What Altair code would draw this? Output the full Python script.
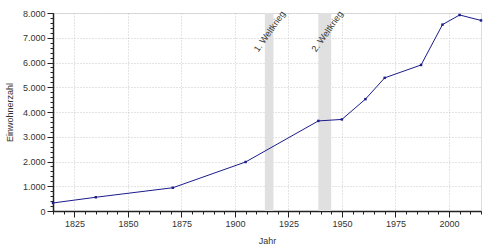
import altair as alt
import pandas as pd

years = [1815, 1835, 1871, 1905, 1939, 1950, 1961, 1970, 1987, 1997, 2005, 2015]
population = [325, 555, 940, 1980, 3640, 3700, 4520, 5380, 5900, 7530, 7920, 7700]

war_start = [1914, 1939]
war_end = [1918, 1945]
war_label = ["1. Weltkrieg", "2. Weltkrieg"]

major_x = [1825, 1850, 1875, 1900, 1925, 1950, 1975, 2000]
minor_x = list(range(1815, 2016, 5))
major_y = [0, 1000, 2000, 3000, 4000, 5000, 6000, 7000, 8000]
minor_y = list(range(0, 8001, 200))

df = pd.DataFrame({"Jahr": years, "Einwohner": population})
wars = pd.DataFrame({"start": war_start, "end": war_end, "label": war_label})

FONT = "Liberation Sans"
xscale = alt.Scale(domain=[1815, 2015], nice=False, zero=False)
yscale = alt.Scale(domain=[0, 8000], nice=False)

bands = alt.Chart(wars).mark_rect(color="#e0e0e0").encode(
    x=alt.X("start:Q", scale=xscale, axis=None),
    x2="end:Q",
)

minor = alt.Chart(df).mark_point(opacity=0).encode(
    x=alt.X("Jahr:Q", scale=xscale,
            axis=alt.Axis(values=minor_x, labels=False, grid=False, domain=False,
                          tickSize=3, tickColor="#222", title=None, orient="bottom")),
    y=alt.Y("Einwohner:Q", scale=yscale,
            axis=alt.Axis(values=minor_y, labels=False, grid=False, domain=False,
                          tickSize=3, tickColor="#222", title=None, orient="left")),
)

line = alt.Chart(df).mark_line(
    color="#1c1c8c", strokeWidth=1,
    point=alt.OverlayMarkDef(color="#1c1c8c", size=6, filled=True, shape="square"),
).encode(
    x=alt.X("Jahr:Q", scale=xscale,
            axis=alt.Axis(values=major_x, format="d", title="Jahr", tickSize=6,
                          tickColor="#222", domainColor="#222", domainWidth=1.5,
                          grid=True, gridColor="#c8c8c8", gridDash=[1, 2],
                          labelFont=FONT, labelFontSize=9, labelColor="#333",
                          titleFont=FONT, titleFontSize=9, titleColor="#333",
                          titleFontWeight="normal", titlePadding=8, labelPadding=2,
                          orient="bottom")),
    y=alt.Y("Einwohner:Q", scale=yscale,
            axis=alt.Axis(values=major_y, title="Einwohnerzahl", tickSize=6,
                          labelExpr="replace(format(datum.value, ','), ',', '.')",
                          tickColor="#222", domainColor="#222", domainWidth=1.5,
                          grid=True, gridColor="#c8c8c8", gridDash=[1, 2],
                          labelFont=FONT, labelFontSize=9, labelColor="#333",
                          titleFont=FONT, titleFontSize=9, titleColor="#333",
                          titleFontWeight="normal", titlePadding=8, labelPadding=2,
                          orient="left")),
)

labels = alt.Chart(wars).transform_calculate(
    pos="datum.end + 4.5"
).mark_text(
    angle=305, align="right", baseline="middle", font=FONT, fontSize=9,
    color="#333",
).encode(
    x=alt.X("pos:Q", scale=xscale, axis=None),
    y=alt.value(-1),
    text="label:N",
)

chart = alt.layer(bands, minor, line, labels).resolve_axis(
    x="independent", y="independent"
).properties(
    width=428, height=198,
    autosize=alt.AutoSizeParams(type="none"),
    padding={"left": 53, "top": 13, "right": 19, "bottom": 39},
).configure_view(stroke=None).configure(background="white")

chart.save("out.html", embed_options={"renderer": "svg", "actions": False})
